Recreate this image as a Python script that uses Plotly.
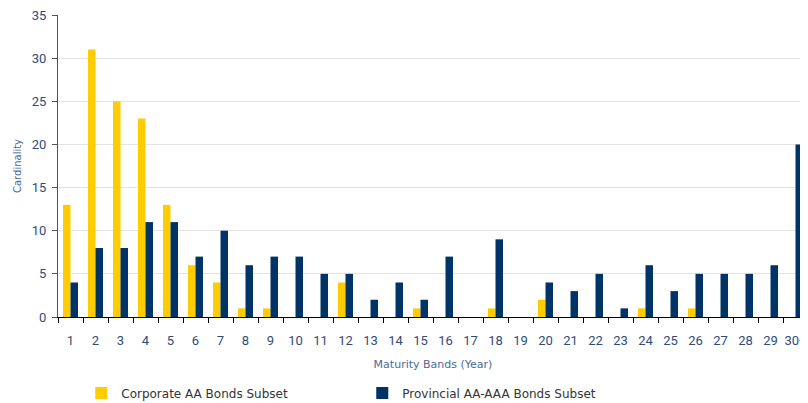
import plotly.graph_objects as go

categories = [str(i) for i in range(1, 30)] + ["30+"]
corporate = [13, 31, 25, 23, 13, 6, 4, 1, 1, 0, 0, 4, 0, 0, 1, 0, 0, 1, 0, 2,
             0, 0, 0, 1, 0, 1, 0, 0, 0, 0]
provincial = [4, 8, 8, 11, 11, 7, 10, 6, 7, 7, 5, 5, 2, 4, 2, 7, 0, 9, 0, 4,
              3, 5, 1, 6, 3, 5, 5, 5, 6, 20]
y_ticks = [0, 5, 10, 15, 20, 25, 30, 35]

fig = go.Figure()
fig.add_trace(go.Bar(x=categories, y=corporate, name="Corporate AA Bonds Subset",
                     marker=dict(color="#FFCC00", line=dict(width=0))))
fig.add_trace(go.Bar(x=categories, y=provincial, name="Provincial AA-AAA Bonds Subset",
                     marker=dict(color="#003366", line=dict(width=0))))

tick_color = "#2E4C7A"
# page body has an 8px default margin, so the figure is 8px smaller and offset
fig.update_layout(
    width=800, height=395,
    margin=dict(l=50, r=0, t=7, b=86, autoexpand=False),
    paper_bgcolor="white", plot_bgcolor="white",
    barmode="group", bargap=0.4, bargroupgap=0,
    font=dict(family="Roboto", color=tick_color),
    showlegend=True,
    legend=dict(orientation="h", x=0.031, y=-0.252, xanchor="left", yanchor="middle",
                font=dict(family="DejaVu Sans", size=12, color="#333333"),
                entrywidth=236, entrywidthmode="pixels", itemwidth=30),
    xaxis=dict(
        type="category", tickson="boundaries", ticks="outside", ticklen=5,
        tickcolor="#000000", showline=True, linecolor="#000000", linewidth=1,
        tickangle=0, automargin=False, ticklabelstandoff=11,
        ticklabeloverflow="allow",
        tickfont=dict(size=13, color=tick_color, family="Roboto"),
        title=dict(text="Maturity Bands (Year)", standoff=13,
                   font=dict(family="DejaVu Sans", size=11, color="#4A6A99")),
        showgrid=False, zeroline=False,
    ),
    yaxis=dict(
        range=[0, 35], tickvals=y_ticks, ticks="outside", ticklen=5,
        tickcolor="#555555", showline=True, linecolor="#555555", linewidth=1,
        automargin=False, ticklabelstandoff=3, ticklabeloverflow="allow",
        tickfont=dict(size=13, color=tick_color, family="Roboto"),
        showgrid=True, gridcolor="#E3E3E3", gridwidth=1, zeroline=False,
        title=dict(text="Cardinality", standoff=8,
                   font=dict(family="DejaVu Sans", size=10, color="#4A6A99")),
    ),
)

fig.write_html("out.html")
